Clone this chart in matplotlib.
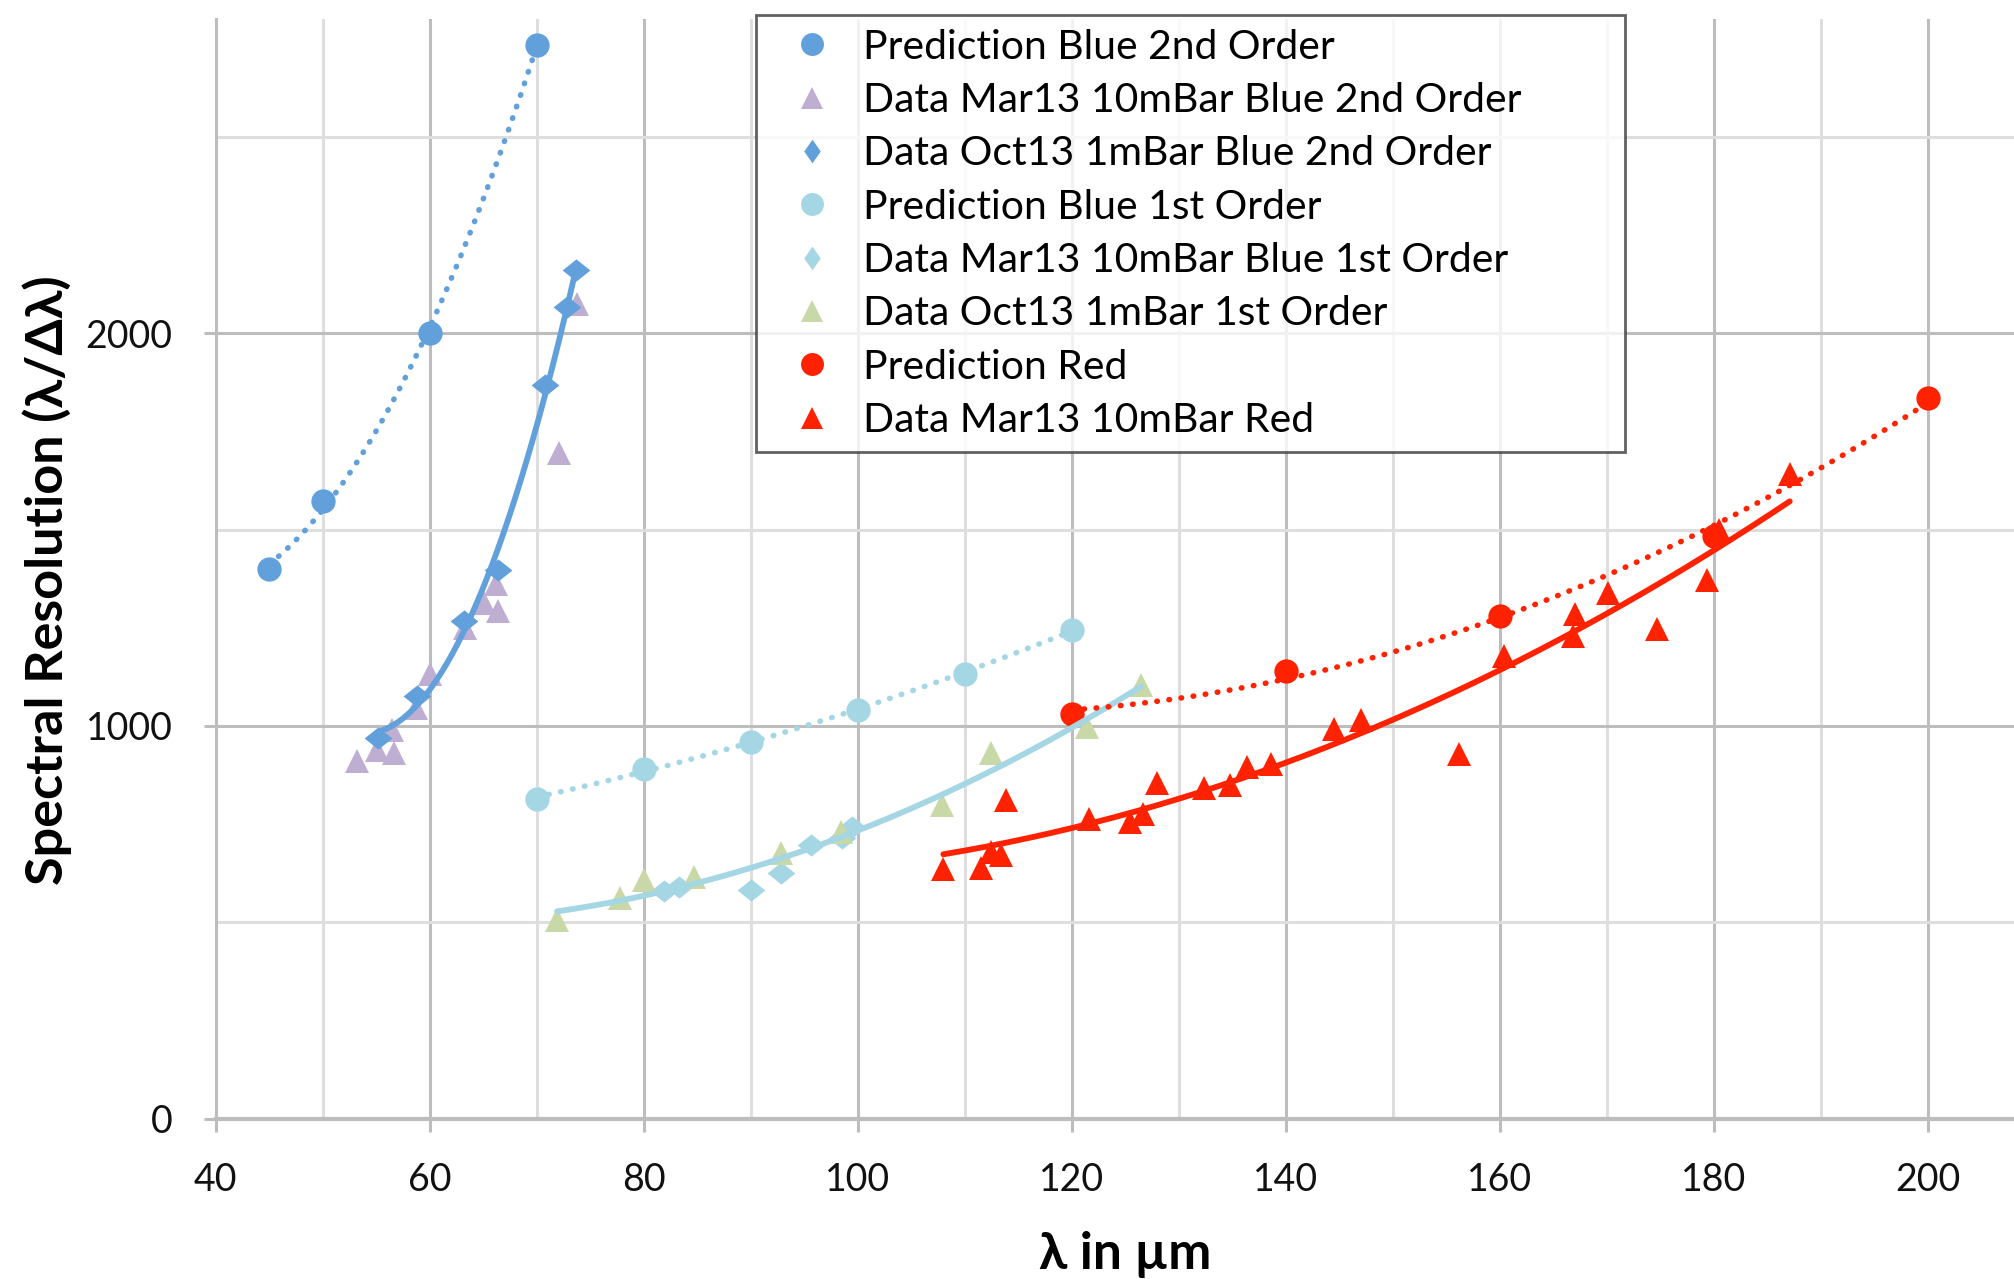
import numpy as np
import matplotlib.pyplot as plt
from matplotlib.lines import Line2D

plt.rcParams['font.family'] = ['Lato', 'DejaVu Sans']

# Prediction Blue 2nd Order
pred_b2_x = [45, 50, 60, 70]
pred_b2_y = [1400, 1573, 2000, 2735]

# Data Mar13 10mBar Blue 2nd Order
mar_b2_x = [53.2, 55.1, 56.7, 56.5, 58.7, 60.0, 63.3, 65.1, 66.4, 66.2, 72.1, 73.8]
mar_b2_y = [912, 940, 930, 990, 1045, 1132, 1250, 1313, 1292, 1362, 1695, 2075]

# Data Oct13 1mBar Blue 2nd Order
oct_b2_x = [55.2, 58.8, 63.2, 66.4, 70.8, 72.8, 73.7]
oct_b2_y = [970, 1076, 1268, 1396, 1868, 2068, 2160]

# Prediction Blue 1st Order
pred_b1_x = [70, 80, 90, 100, 110, 120]
pred_b1_y = [815, 890, 960, 1040, 1133, 1245]

# Data Mar13 10mBar Blue 1st Order
mar_b1_x = [81.9, 83.3, 90.0, 92.8, 95.6, 98.5, 99.5]
mar_b1_y = [580, 590, 583, 625, 697, 715, 742]

# Data Oct13 1mBar 1st Order
oct_b1_x = [71.9, 77.8, 80.0, 84.7, 92.8, 98.4, 107.9, 112.5, 121.4, 126.5]
oct_b1_y = [507, 563, 608, 615, 677, 729, 800, 930, 997, 1105]

# Prediction Red
pred_r_x = [120, 140, 160, 180, 200]
pred_r_y = [1030, 1140, 1280, 1485, 1835]

# Data Mar13 10mBar Red
mar_r_x = [108.0, 111.5, 112.5, 113.4, 113.9, 121.6, 125.4, 126.7, 128.0, 132.4,
           134.8, 136.4, 138.6, 144.5, 147.0, 156.2, 160.4, 167.0, 166.8, 170.1,
           174.7, 179.4, 180.5, 187.1]
mar_r_y = [635, 639, 680, 672, 811, 762, 755, 775, 855, 842,
           851, 895, 902, 992, 1015, 928, 1177, 1284, 1230, 1339,
           1248, 1372, 1500, 1641]

labels = ['Prediction Blue 2nd Order', 'Data Mar13 10mBar Blue 2nd Order',
          'Data Oct13 1mBar Blue 2nd Order', 'Prediction Blue 1st Order',
          'Data Mar13 10mBar Blue 1st Order', 'Data Oct13 1mBar 1st Order',
          'Prediction Red', 'Data Mar13 10mBar Red']

BLUE = '#62A0DC'
PURPLE = '#BEAFD2'
CYAN = '#A5D6E4'
GREEN = '#C8D8A6'
RED = '#FF2200'

# flattened diamond like the Excel marker
DIAMOND = [(0, 1), (1.25, 0), (0, -1), (-1.25, 0), (0, 1)]
# narrow diamond used in the legend
DIAMOND_LEG = [(0, 1), (0.7, 0), (0, -1), (-0.7, 0), (0, 1)]


def trend(ax, xs, ys, color, dotted, deg=2):
    """Polynomial trendline drawn over the range of the data."""
    xs = np.asarray(xs, float)
    ys = np.asarray(ys, float)
    coef = np.polyfit(xs, ys, deg)
    xx = np.linspace(xs.min(), xs.max(), 200)
    if dotted:
        ax.plot(xx, np.polyval(coef, xx), color=color, lw=4.0,
                linestyle=(0, (0.1, 2.1)), dash_capstyle='round', zorder=4)
    else:
        ax.plot(xx, np.polyval(coef, xx), color=color, lw=4.2,
                solid_capstyle='round', zorder=4)


fig = plt.figure(figsize=(20.14, 12.79), dpi=100)
ax = fig.add_axes([0.1071, 0.1253, 0.8929, 0.8598])

series = [
    (pred_b2_x, pred_b2_y, 'o', BLUE, 17.5),
    (mar_b2_x, mar_b2_y, '^', PURPLE, 17),
    (oct_b2_x, oct_b2_y, DIAMOND, BLUE, 20),
    (pred_b1_x, pred_b1_y, 'o', CYAN, 17.5),
    (mar_b1_x, mar_b1_y, DIAMOND, CYAN, 20),
    (oct_b1_x, oct_b1_y, '^', GREEN, 17),
    (pred_r_x, pred_r_y, 'o', RED, 17.5),
    (mar_r_x, mar_r_y, '^', RED, 17),
]
handles = []
for (xs, ys, m, c, ms), lab in zip(series, labels):
    ax.plot(xs, ys, linestyle='none', marker=m, color=c, markersize=ms,
            markeredgewidth=0, zorder=3)
    if m is DIAMOND:
        handles.append(Line2D([], [], linestyle='none', marker=DIAMOND_LEG,
                              color=c, markersize=17, markeredgewidth=0))
    else:
        handles.append(Line2D([], [], linestyle='none', marker=m, color=c,
                              markersize=16.5, markeredgewidth=0))

# trendlines
trend(ax, pred_b2_x, pred_b2_y, BLUE, True)
trend(ax, oct_b2_x, oct_b2_y, BLUE, False)
trend(ax, pred_b1_x, pred_b1_y, CYAN, True)
trend(ax, mar_b1_x + oct_b1_x, mar_b1_y + oct_b1_y, CYAN, False)
trend(ax, pred_r_x, pred_r_y, RED, True)
trend(ax, mar_r_x, mar_r_y, RED, False)

ax.set_xlim(40, 208.06)
ax.set_ylim(0, 2800)
ax.set_xticks(range(40, 201, 20))
ax.set_xticks(range(50, 200, 20), minor=True)
ax.set_yticks([0, 1000, 2000])
ax.set_yticks([500, 1500, 2500], minor=True)
ax.grid(which='major', color='#BDBDBD', lw=2.2, zorder=0)
ax.grid(which='minor', color='#DEDEDE', lw=2.2, zorder=0)
ax.set_axisbelow(True)

for s in ['top', 'right']:
    ax.spines[s].set_visible(False)
ax.spines['left'].set_color('#BDBDBD')
ax.spines['left'].set_linewidth(2.2)
ax.spines['bottom'].set_color('#BDBDBD')
ax.spines['bottom'].set_linewidth(3)

ax.tick_params(which='major', direction='out', length=9, width=2.2,
               color='#BDBDBD', labelsize=27, labelcolor='#111111', pad=22)
ax.tick_params(which='minor', length=0)

ax.set_xlabel('λ in µm', fontsize=37, fontweight='bold')
ax.xaxis.set_label_coords(0.506, -0.123)
ax.xaxis.label.set_va('center')
ax.set_ylabel('Spectral Resolution (λ/Δλ)', fontsize=37.5, fontweight='bold')
ax.yaxis.set_label_coords(-0.0936, 0.49)
ax.yaxis.label.set_va('center')

leg = ax.legend(handles, labels, loc='upper left', mode='expand',
                bbox_to_anchor=(0.3004, 1.0036, 0.4833, 0.0), fontsize=29.4,
                frameon=True, fancybox=False, borderaxespad=0, borderpad=0.33,
                labelspacing=0.40, handlelength=2.1, handletextpad=0.2)
leg.get_frame().set_edgecolor('#3A3A3A')
leg.get_frame().set_linewidth(2.0)
leg.set_zorder(6)

fig.savefig('out.png', dpi=100)
